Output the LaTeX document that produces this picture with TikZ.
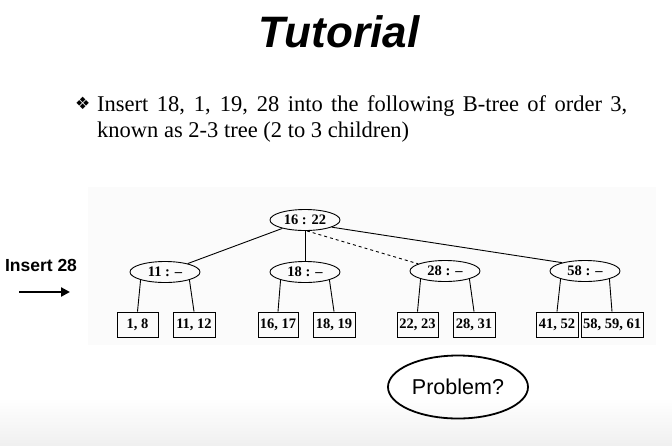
\documentclass[tikz,border=0pt]{standalone}
\usepackage{fontspec}
\setmainfont{Liberation Serif}
\newfontfamily\arialf{Liberation Sans}
\newfontfamily\djv{DejaVu Sans}
\usetikzlibrary{shapes.geometric,arrows.meta}
\begin{document}
\begin{tikzpicture}[x=1pt,y=-1pt,
  inner/.style={draw,ellipse,line width=0.9pt,minimum width=70pt,minimum height=21pt,inner sep=0pt,font=\fontsize{14.5}{14.5}\selectfont\bfseries},
  leaf/.style={draw,rectangle,line width=0.9pt,minimum height=25pt,inner sep=1pt,font=\fontsize{14.5}{14.5}\selectfont\bfseries},
  edge/.style={line width=0.9pt}]
\useasboundingbox (0,0) rectangle (672,445);
\shade[top color=white,bottom color=black!6] (0,398) rectangle (672,445);
\fill[black!1.5] (88,187) rectangle (656,345);
\node (title) at (339,32) {\arialf\bfseries\itshape\fontsize{44}{44}\selectfont Tutorial};
\node[anchor=base west,inner sep=0pt] (bul) at (75,109) {\djv\fontsize{17}{17}\selectfont ❖};
\node[anchor=north west,inner sep=0pt,text width=530pt,align=justify,font=\fontsize{22.5}{26}\selectfont] (txt) at (97,95) {Insert 18, 1, 19, 28 into the following B-tree of order 3,\linebreak known as 2-3 tree (2 to 3 children)};
% tree
\node[inner] (root) at (305,220) {16 : 22};
\node[inner] (n11) at (165,272) {11 : --};
\node[inner] (n18) at (305,272) {18 : --};
\node[inner] (n28) at (445,271) {28 : --};
\node[inner] (n58) at (585,271) {58 : --};
\node[leaf,minimum width=41pt] (l1) at (137.5,324.5) {1, 8};
\node[leaf,minimum width=42pt] (l2) at (194,324.5) {11, 12};
\node[leaf,minimum width=40pt] (l3) at (278,324.5) {16, 17};
\node[leaf,minimum width=42pt] (l4) at (334,324.5) {18, 19};
\node[leaf,minimum width=41pt] (l5) at (417.5,324.5) {22, 23};
\node[leaf,minimum width=42pt] (l6) at (474,324.5) {28, 31};
\node[leaf,minimum width=42pt] (l7) at (557,324.5) {41, 52};
\node[leaf,minimum width=62pt] (l8) at (612,324.5) {58, 59, 61};
\draw[edge] (root) -- (n11);
\draw[edge] (root) -- (n18);
\draw[edge,dashed] (root.-80) -- (n28.165);
\draw[edge] (root.-15) -- (n58.160);
\draw[edge] (n11.198) -- (l1.north);
\draw[edge] (n11.-18) -- (l2.north);
\draw[edge] (n18.198) -- (l3.north);
\draw[edge] (n18.-18) -- (l4.north);
\draw[edge] (n28.198) -- (l5.north);
\draw[edge] (n28.-18) -- (l6.north);
\draw[edge] (n58.198) -- (l7.north);
\draw[edge] (n58.-18) -- (l8.north);
% insert label
\node (ins) at (41,265) {\arialf\bfseries\fontsize{17.5}{17.5}\selectfont Insert 28};
\coordinate (a1) at (19,292);
\coordinate (a2) at (70,292);
\draw[line width=2.6pt,-{Triangle[length=9pt,width=9pt]}] (a1) -- (a2);
% problem
\node[draw,ellipse,line width=1.8pt,minimum width=140pt,minimum height=63pt,inner sep=0pt,font=\arialf\fontsize{21.5}{21.5}\selectfont] (prob) at (458,387) {Problem?};
\end{tikzpicture}
\end{document}
